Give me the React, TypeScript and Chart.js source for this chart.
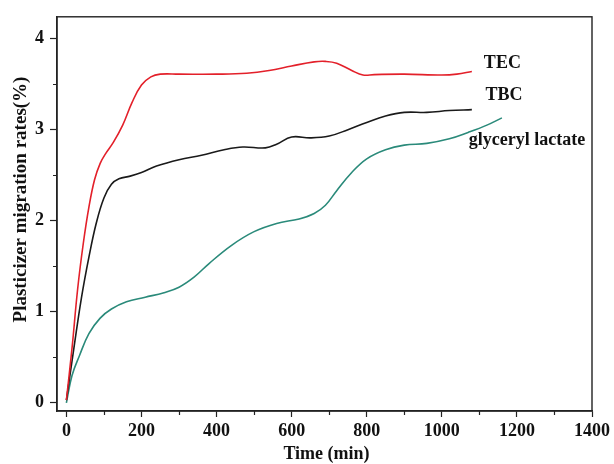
import React, { useEffect, useRef } from "react";
import { Chart, registerables } from "chart.js";

Chart.register(...registerables);

// ---- data ----
const tecX = [0, 15, 30, 45, 60, 75, 90, 105, 125, 150, 175, 200, 225, 250, 300, 400, 480, 540, 600, 660, 690, 720, 760, 790, 820, 900, 1000, 1040, 1080];
const tecY = [0.03, 0.6, 1.25, 1.75, 2.15, 2.45, 2.63, 2.74, 2.86, 3.05, 3.3, 3.49, 3.58, 3.61, 3.61, 3.61, 3.62, 3.65, 3.7, 3.745, 3.75, 3.73, 3.65, 3.6, 3.605, 3.61, 3.6, 3.61, 3.64];

const tbcX = [0, 20, 40, 60, 80, 100, 120, 140, 170, 200, 240, 300, 360, 420, 470, 530, 560, 600, 650, 700, 750, 800, 850, 900, 960, 1020, 1080];
const tbcY = [0.03, 0.6, 1.15, 1.6, 1.98, 2.25, 2.4, 2.46, 2.49, 2.53, 2.6, 2.67, 2.72, 2.78, 2.81, 2.8, 2.84, 2.92, 2.91, 2.93, 3.0, 3.08, 3.15, 3.19, 3.19, 3.21, 3.22];

const glyX = [0, 15, 35, 60, 90, 120, 160, 210, 260, 300, 340, 380, 440, 500, 560, 620, 660, 690, 720, 760, 800, 850, 900, 960, 1020, 1070, 1120, 1160];
const glyY = [0, 0.3, 0.52, 0.76, 0.93, 1.03, 1.11, 1.16, 1.21, 1.27, 1.38, 1.53, 1.73, 1.88, 1.97, 2.02, 2.08, 2.17, 2.33, 2.53, 2.68, 2.78, 2.83, 2.85, 2.9, 2.97, 3.05, 3.13];

const seriesNames = ["TEC", "TBC", "glyceryl lactate"];
const seriesColors = ["#e3202a", "#1a1a1a", "#2a8a7a"];

// label anchors in data units (left edge, baseline)
const labelX = [1112, 1116, 1072];
const labelY = [3.68, 3.33, 2.83];

const xMajorTicks = [0, 200, 400, 600, 800, 1000, 1200, 1400];
const xMinorTicks = [100, 300, 500, 700, 900, 1100, 1300];
const yMajorTicks = [0, 1, 2, 3, 4];
const yMinorTicks = [0.5, 1.5, 2.5, 3.5];

const xTitle = "Time (min)";
const yTitle = "Plasticizer migration rates(%)";

const FONT = '"Liberation Serif", "Times New Roman", serif';

function pts(xs: number[], ys: number[]) {
  return xs.map((x, i) => ({ x, y: ys[i] }));
}

export default function App() {
  const ref = useRef<HTMLCanvasElement | null>(null);

  useEffect(() => {
    if (!ref.current) return;

    const decor = {
      id: "decor",
      afterDraw(chart: any) {
        const { ctx, chartArea, scales } = chart;
        const xs = scales.x;
        const ys = scales.y;
        ctx.save();
        // frame
        ctx.strokeStyle = "#222";
        ctx.lineWidth = 1.4;
        ctx.strokeRect(chartArea.left, chartArea.top, chartArea.right - chartArea.left, chartArea.bottom - chartArea.top);
        // minor ticks
        ctx.lineWidth = 1.2;
        ctx.beginPath();
        xMinorTicks.forEach((v) => {
          const px = Math.round(xs.getPixelForValue(v)) + 0.5;
          ctx.moveTo(px, chartArea.bottom);
          ctx.lineTo(px, chartArea.bottom + 4);
        });
        yMinorTicks.forEach((v) => {
          const py = Math.round(ys.getPixelForValue(v)) + 0.5;
          ctx.moveTo(chartArea.left, py);
          ctx.lineTo(chartArea.left - 4, py);
        });
        ctx.stroke();
        // series labels
        ctx.fillStyle = "#111";
        ctx.font = "bold 18px " + FONT;
        ctx.textAlign = "left";
        ctx.textBaseline = "alphabetic";
        seriesNames.forEach((n, i) => {
          ctx.fillText(n, xs.getPixelForValue(labelX[i]), ys.getPixelForValue(labelY[i]));
        });
        // axis titles
        ctx.textAlign = "center";
        ctx.fillText(xTitle, (chartArea.left + chartArea.right) / 2 + 2, 459);
        ctx.translate(25.7, 199.5);
        ctx.rotate(-Math.PI / 2);
        ctx.font = "bold 19px " + FONT;
        ctx.fillText(yTitle, 0, 0);
        ctx.restore();
      },
    };

    const datasets = [pts(tecX, tecY), pts(tbcX, tbcY), pts(glyX, glyY)].map((d, i) => ({
      label: seriesNames[i],
      data: d,
      borderColor: seriesColors[i],
      backgroundColor: seriesColors[i],
      borderWidth: 1.6,
      pointRadius: 0,
      tension: 0.4,
      fill: false,
    }));

    const chart = new Chart(ref.current, {
      type: "line",
      data: { datasets },
      options: {
        animation: false,
        responsive: false,
        layout: { padding: { left: 0, top: 12, right: 20, bottom: 0 } },
        plugins: { legend: { display: false }, tooltip: { enabled: false } },
        scales: {
          x: {
            type: "linear",
            min: -25,
            max: 1400,
            afterBuildTicks: (s: any) => {
              s.ticks = xMajorTicks.map((v) => ({ value: v }));
            },
            afterFit: (s: any) => {
              s.height = 53;
            },
            border: { display: true, color: "#222", width: 1.4 },
            grid: { display: true, drawOnChartArea: false, drawTicks: true, tickLength: 6, tickColor: "#222", tickWidth: 1.2 },
            ticks: {
              color: "#111",
              font: { family: FONT, size: 18, weight: "bold" },
              padding: 4,
              maxRotation: 0,
              autoSkip: false,
              callback: (v: any) => String(v),
            },
          },
          y: {
            type: "linear",
            min: -0.09,
            max: 4.24,
            afterBuildTicks: (s: any) => {
              s.ticks = yMajorTicks.map((v) => ({ value: v }));
            },
            afterFit: (s: any) => {
              s.width = 57;
            },
            border: { display: true, color: "#222", width: 1.4 },
            grid: { display: true, drawOnChartArea: false, drawTicks: true, tickLength: 7, tickColor: "#222", tickWidth: 1.2 },
            ticks: {
              color: "#111",
              font: { family: FONT, size: 18, weight: "bold" },
              padding: 6,
              autoSkip: false,
              callback: (v: any) => String(v),
            },
          },
        },
      },
      plugins: [decor],
    });
    return () => chart.destroy();
  }, []);

  return (
    <div style={{ position: "absolute", left: 0, top: 0, width: 614, height: 464, background: "#fff" }}>
      <canvas ref={ref} width={614} height={464} style={{ display: "block" }} />
    </div>
  );
}
